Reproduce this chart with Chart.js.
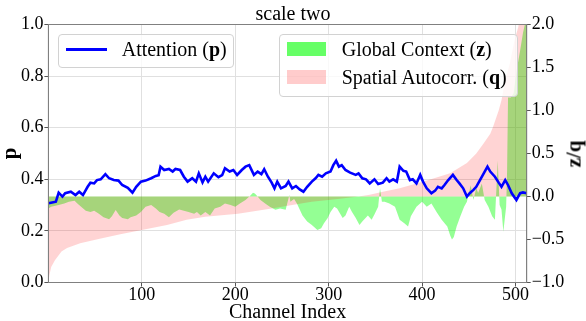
<!DOCTYPE html>
<html>
<head>
<meta charset="utf-8">
<script src="https://cdn.jsdelivr.net/npm/chart.js@4.4.1/dist/chart.umd.min.js"></script>
<style>
  body { margin: 0; background: #fff; }
  #wrap { position: relative; width: 586px; height: 321px; font-family: "Liberation Serif", serif; }
  #chart { position: absolute; left: 0; top: 0; }
  .box { position: absolute; box-sizing: border-box; border: 1px solid #d2d2d2; border-radius: 4px; background: rgba(255, 255, 255, 0.8); }
  .txt { position: absolute; font-size: 20px; line-height: 20px; white-space: nowrap; color: #000; }
  .swatch { position: absolute; }
  #zlabel { position: absolute; left: 574px; top: 153.5px; font-size: 21px; line-height: 21px; font-weight: bold; white-space: nowrap;
            transform: translate(-50%, -50%) rotate(-90deg); }
</style>
</head>
<body>
<div id="wrap">
  <canvas id="chart" width="586" height="321"></canvas>
  <div class="box" style="left:58.3px; top:34.3px; width:176px; height:34px;"></div>
  <div class="swatch" style="left:65.7px; top:47.7px; width:41px; height:3px; background:#0000ff;"></div>
  <div class="txt" id="lab0" style="left:121.7px; top:39.2px;"></div>
  <div class="box" style="left:279.3px; top:34.3px; width:239px; height:62.4px;"></div>
  <div class="swatch" style="left:286.7px; top:42.3px; width:39.3px; height:13.7px; background:rgba(0,255,0,0.6);"></div>
  <div class="swatch" style="left:286.7px; top:70px; width:39.3px; height:13.5px; background:rgba(255,0,0,0.2);"></div>
  <div class="txt" id="lab1" style="left:341.7px; top:39px;"></div>
  <div class="txt" id="lab2" style="left:341.7px; top:66.6px;"></div>
  <div id="zlabel">z/q</div>
</div>
<script>
// channel positions and values
const attnIdx = [0,4,8,11,15,18,24,29,33,37,
  42,45,49,52,56,61,65,70,75,79,
  85,90,94,99,104,110,115,118,120,124,
  129,133,136,141,145,149,154,158,161,165,
  168,171,177,182,186,189,194,198,202,207,
  211,215,220,224,228,231,235,239,242,245,
  249,254,257,261,265,269,273,277,282,286,
  289,293,297,302,305,308,311,314,318,323,
  329,332,336,340,344,349,353,358,362,365,
  369,373,376,380,383,387,390,394,398,401,
  405,410,414,417,421,424,428,433,437,440,
  444,448,451,455,458,462,466,470,473,478,
  482,485,489,492,496,501,505,508,512];
const attnVals = [0.307,0.310,0.313,0.348,0.333,0.346,0.352,0.339,0.352,0.339,
  0.371,0.387,0.384,0.397,0.400,0.420,0.404,0.397,0.395,0.378,
  0.367,0.348,0.371,0.391,0.395,0.404,0.413,0.416,0.449,0.436,
  0.440,0.430,0.440,0.436,0.410,0.391,0.404,0.391,0.423,0.388,
  0.410,0.391,0.423,0.408,0.416,0.443,0.430,0.436,0.417,0.436,
  0.449,0.455,0.417,0.430,0.420,0.439,0.410,0.387,0.365,0.391,
  0.365,0.374,0.391,0.365,0.374,0.361,0.352,0.371,0.391,0.404,
  0.417,0.410,0.423,0.430,0.455,0.472,0.449,0.455,0.436,0.426,
  0.417,0.423,0.404,0.400,0.384,0.400,0.382,0.387,0.404,0.391,
  0.400,0.391,0.449,0.433,0.430,0.397,0.400,0.384,0.417,0.391,
  0.365,0.346,0.356,0.371,0.365,0.378,0.397,0.417,0.397,0.384,
  0.365,0.333,0.346,0.359,0.371,0.397,0.423,0.449,0.430,0.410,
  0.387,0.371,0.397,0.378,0.346,0.320,0.346,0.349,0.346];

const ctxIdx = [0,3,11,17,22,28,31,35,40,45,
  49,54,59,65,68,72,76,79,85,88,
  94,99,104,110,115,119,124,129,134,140,
  145,150,156,159,163,168,173,178,184,189,
  195,200,205,211,216,219,221,224,227,232,
  237,243,248,254,258,259,263,266,272,277,
  282,288,292,295,299,302,306,309,315,318,
  322,325,329,333,336,342,346,349,353,355,
  357,360,365,371,376,381,385,388,394,400,
  405,410,416,421,427,430,432,434,437,441,
  445,448,452,455,458,460,464,467,471,475,
  478,481,483,485,487,490,491,492,495,498,
  501,505,508,510,512];
const ctxVals = [-0.14,-0.12,-0.10,-0.08,-0.06,-0.05,-0.08,-0.12,-0.165,-0.18,
  -0.165,-0.20,-0.24,-0.265,-0.23,-0.157,-0.22,-0.25,-0.265,-0.24,
  -0.22,-0.18,-0.12,-0.10,-0.14,-0.18,-0.20,-0.24,-0.19,-0.15,
  -0.165,-0.18,-0.20,-0.18,-0.22,-0.18,-0.22,-0.14,-0.12,-0.08,
  -0.10,-0.12,-0.08,-0.04,0.01,0.045,0.035,0.0,-0.04,-0.08,
  -0.12,-0.155,-0.14,-0.155,0.02,-0.06,-0.03,-0.08,-0.22,-0.29,
  -0.33,-0.39,-0.37,-0.31,-0.25,-0.18,-0.12,-0.14,-0.25,-0.22,
  -0.12,-0.18,-0.25,-0.33,-0.29,-0.22,-0.27,-0.21,-0.12,0.095,
  -0.06,-0.06,-0.08,-0.12,-0.27,-0.31,-0.35,-0.23,-0.12,-0.06,
  -0.12,-0.08,-0.19,-0.27,-0.35,-0.45,-0.50,-0.47,-0.35,-0.23,
  -0.12,-0.06,0.13,-0.04,0.10,0.04,0.15,-0.04,-0.12,-0.23,
  -0.27,0.42,-0.10,-0.15,-0.41,-0.12,0.30,1.15,1.15,1.20,
  1.45,1.70,1.90,2.00,2.15];

const acIdx = [0,1,3,7,14,20,34,55,77,100,
  127,148,168,203,239,261,282,310,332,344,
  358,376,394,412,430,448,458,466,473,476,
  482,485,489,494,499,503,507,512];
const acVals = [-1.0,-0.92,-0.82,-0.74,-0.64,-0.60,-0.545,-0.49,-0.44,-0.39,
  -0.33,-0.27,-0.235,-0.20,-0.14,-0.10,-0.06,-0.03,0.0,0.02,
  0.056,0.095,0.15,0.21,0.27,0.39,0.50,0.62,0.73,0.81,
  1.0,1.12,1.35,1.55,1.82,1.97,2.3,3.0];

const xTicks = [100, 200, 300, 400, 500];
const pTicks = [0, 0.2, 0.4, 0.6, 0.8, 1.0];
const zTicks = [-1, -0.5, 0, 0.5, 1, 1.5, 2];

const legendNames = ["Attention", "Global Context", "Spatial Autocorr."];
const legendSymbols = ["p", "z", "q"];

legendNames.forEach((name, i) => {
  document.getElementById("lab" + i).innerHTML = name + " (<b>" + legendSymbols[i] + "</b>)";
});

function toPoints(xs, ys) {
  return xs.map((x, i) => ({ x: x, y: ys[i] }));
}

// matplotlib-like frame drawn above the fills
const frame = {
  id: "frame",
  afterDatasetsDraw(chart) {
    const { ctx, chartArea: a } = chart;
    ctx.save();
    ctx.strokeStyle = "#808080";
    ctx.lineWidth = 1;
    ctx.strokeRect(a.left, a.top, a.right - a.left, a.bottom - a.top);
    ctx.restore();
  },
};

Chart.defaults.font.family = '"Liberation Serif", serif';
Chart.defaults.color = "#000";

const ctx = document.getElementById("chart").getContext("2d");
new Chart(ctx, {
  type: "line",
  data: {
    datasets: [
      {
        label: "Attention",
        data: toPoints(attnIdx, attnVals),
        yAxisID: "y",
        borderColor: "#0000ff",
        borderWidth: 2.6,
        pointRadius: 0,
        fill: false,
        order: 0,
      },
      {
        label: "Spatial Autocorr.",
        data: toPoints(acIdx, acVals),
        yAxisID: "y2",
        borderWidth: 0,
        backgroundColor: "rgba(255, 0, 0, 0.17)",
        fill: "origin",
        pointRadius: 0,
        order: 1,
      },
      {
        label: "Global Context",
        data: toPoints(ctxIdx, ctxVals),
        yAxisID: "y2",
        borderWidth: 0,
        backgroundColor: "rgba(0, 255, 0, 0.42)",
        fill: "origin",
        pointRadius: 0,
        order: 2,
      },
    ],
  },
  options: {
    responsive: false,
    animation: false,
    devicePixelRatio: 1,
    layout: { padding: 0 },
    plugins: {
      legend: { display: false },
      tooltip: { enabled: false },
      title: {
        display: true,
        text: "scale two",
        color: "#000",
        font: { size: 20, weight: "normal", lineHeight: 1.025 },
        padding: { top: 4, bottom: 0 },
      },
    },
    scales: {
      x: {
        type: "linear",
        min: 0,
        max: 512,
        afterBuildTicks: (s) => { s.ticks = xTicks.map((v) => ({ value: v })); },
        afterFit: (s) => { s.height = 38.5; },
        grid: { color: "#e0e0e0", tickColor: "#555", tickLength: 4 },
        border: { color: "#808080" },
        ticks: { font: { size: 18 }, padding: -2, maxRotation: 0 },
        title: { display: true, text: "Channel Index", font: { size: 20, lineHeight: 0.8 }, padding: 0 },
      },
      y: {
        position: "left",
        min: 0,
        max: 1,
        afterBuildTicks: (s) => { s.ticks = pTicks.map((v) => ({ value: v })); },
        afterFit: (s) => { s.width = 48.4; },
        grid: { color: "#e0e0e0", tickColor: "#555", tickLength: 4 },
        border: { color: "#808080" },
        ticks: { font: { size: 18 }, padding: 1, callback: (v) => v.toFixed(1) },
        title: { display: true, text: "p", font: { size: 21, weight: "bold", lineHeight: 1 }, padding: { top: 0.5, bottom: 0 } },
      },
      y2: {
        position: "right",
        min: -1,
        max: 2,
        afterBuildTicks: (s) => { s.ticks = zTicks.map((v) => ({ value: v })); },
        afterFit: (s) => { s.width = 59.3; },
        grid: { drawOnChartArea: false, tickColor: "#555", tickLength: 4 },
        border: { color: "#808080" },
        ticks: {
          font: { size: 18 },
          padding: 1,
          callback: (v) => (v < 0 ? "\u2212" : "") + Math.abs(v).toFixed(1),
        },
      },
    },
  },
  plugins: [frame],
});
</script>
</body>
</html>
